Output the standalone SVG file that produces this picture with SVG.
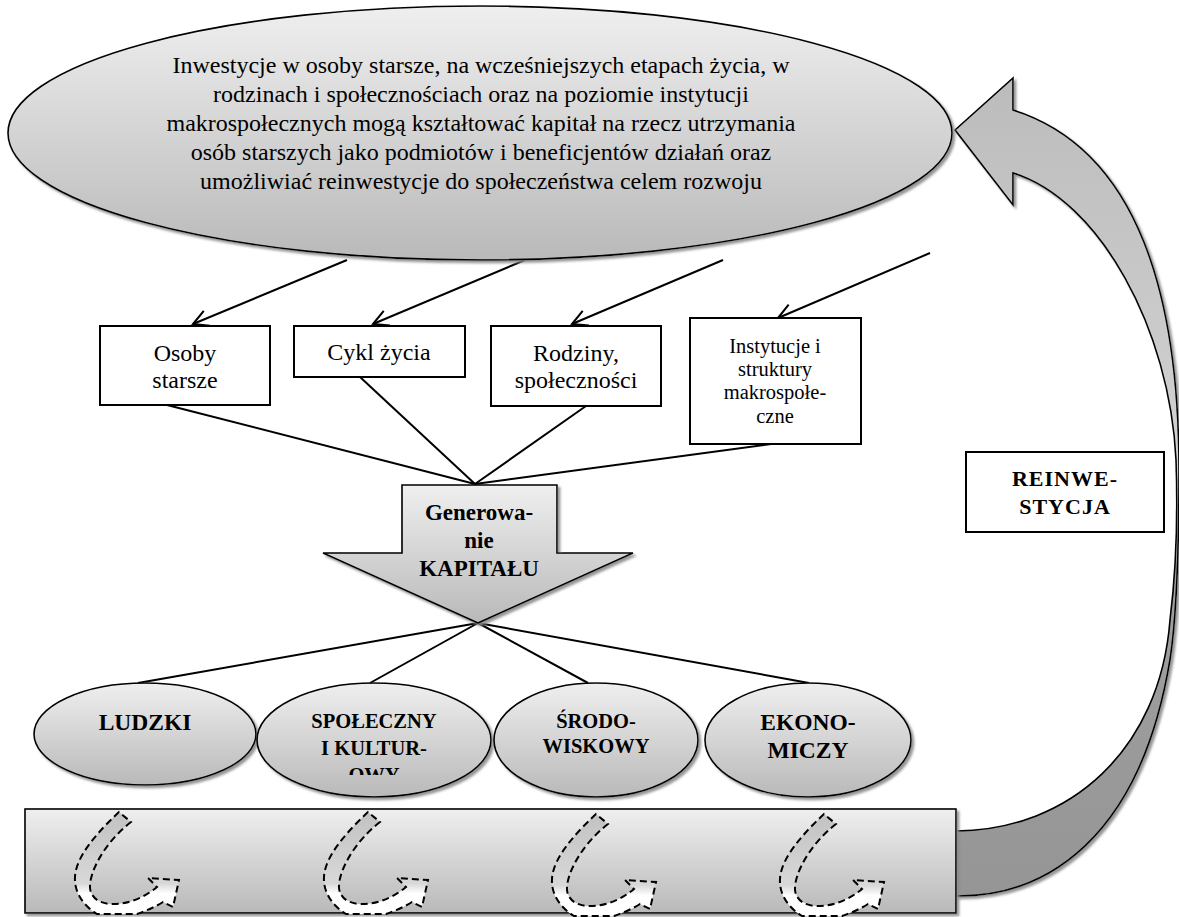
<svg xmlns="http://www.w3.org/2000/svg" xmlns:xlink="http://www.w3.org/1999/xlink" width="1179" height="917" viewBox="0 0 1179 917">
<defs>
<linearGradient id="gEll" x1="0" y1="0" x2="0" y2="1">
<stop offset="0" stop-color="#efefef"/><stop offset="1" stop-color="#b9b9b9"/>
</linearGradient>
<linearGradient id="gCurl" x1="0" y1="0" x2="0" y2="1">
<stop offset="0" stop-color="#c2c2c2"/><stop offset="0.7" stop-color="#d8d8d8"/><stop offset="0.8" stop-color="#ffffff"/><stop offset="1" stop-color="#ffffff"/>
</linearGradient>
<linearGradient id="gArc" gradientUnits="userSpaceOnUse" x1="0" y1="80" x2="0" y2="900">
<stop offset="0" stop-color="#bcbcbc"/><stop offset="0.55" stop-color="#d6d6d6"/><stop offset="0.6" stop-color="#a0a0a0"/><stop offset="1" stop-color="#959595"/>
</linearGradient>
<filter id="sh" x="-5%" y="-5%" width="115%" height="125%">
<feDropShadow dx="2.5" dy="2.5" stdDeviation="0.8" flood-color="#8a8a8a" flood-opacity="0.9"/>
</filter>
<marker id="ah" viewBox="-16 -10 20 20" refX="0" refY="0" markerWidth="20" markerHeight="20" markerUnits="userSpaceOnUse" orient="auto">
<path d="M-15,-8 L0,0 L-15,8" fill="none" stroke="#000" stroke-width="2"/>
</marker>
<clipPath id="clipOwy"><rect x="250" y="600" width="250" height="175"/></clipPath>
<path id="curl" d="M119,812 C100,830 76,855 75,877 C74,893 84,906 97,914 L137,914 C148,910 157,906 163,902 L173,907 L179,880 L148,878 L157,887 C145,897 128,905 110,904 C98,903 91,897 90,888 C89,872 105,842 131,822 Z"/>
<style>
.sh{filter:url(#sh)}
.ell{fill:url(#gEll);stroke:#000;stroke-width:1.6}
.box{fill:#fff;stroke:#000;stroke-width:2}
.ln{stroke:#000;stroke-width:2;fill:none}
.curl{fill:url(#gCurl);stroke:#000;stroke-width:2;stroke-dasharray:7 4}
</style>
</defs>
<rect width="1179" height="917" fill="#fff"/>

<g id="reinvest-arrow">
<path class="sh" fill="url(#gArc)" stroke="#000" stroke-width="1.6" d="M956,896 C1045,897 1140,840 1170,660 C1177,615 1179,540 1179,470 C1179,300 1140,150 1013,110 L1013,78 L955,130 L1013,205 L1013,173 C1100,200 1170,330 1176,460 C1178,520 1175,580 1170,620 C1160,750 1070,830 956,831 Z"/>
</g>

<g id="connectors">
<line class="ln" x1="347" y1="260" x2="193" y2="324" marker-end="url(#ah)"/>
<line class="ln" x1="525" y1="260" x2="373" y2="324" marker-end="url(#ah)"/>
<line class="ln" x1="723" y1="260" x2="572" y2="324" marker-end="url(#ah)"/>
<line class="ln" x1="930" y1="253" x2="778" y2="318" marker-end="url(#ah)"/>
<line class="ln" x1="167" y1="405" x2="475" y2="484"/>
<line class="ln" x1="360" y1="377" x2="475" y2="484"/>
<line class="ln" x1="586" y1="406" x2="475" y2="484"/>
<line class="ln" x1="771" y1="444" x2="475" y2="484"/>
<line class="ln" x1="478" y1="623" x2="138" y2="683"/>
<line class="ln" x1="478" y1="623" x2="370" y2="683"/>
<line class="ln" x1="478" y1="623" x2="588" y2="683"/>
<line class="ln" x1="478" y1="623" x2="809" y2="683"/>
</g>

<g font-family="'Liberation Serif', 'Times New Roman', serif" text-anchor="middle" fill="#000">
<g id="main-ellipse">
<ellipse class="ell sh" cx="480" cy="133" rx="472" ry="127"/>
<text font-size="24" font-family="Liberation Serif, serif"><tspan x="481" y="73">Inwestycje w osoby starsze, na wcześniejszych etapach życia, w</tspan><tspan x="481" y="102">rodzinach i społecznościach oraz na poziomie instytucji</tspan><tspan x="481" y="131">makrospołecznych mogą kształtować kapitał na rzecz utrzymania</tspan><tspan x="481" y="160">osób starszych jako podmiotów i beneficjentów działań oraz</tspan><tspan x="481" y="189">umożliwiać reinwestycje do społeczeństwa celem rozwoju</tspan></text>
</g>

<g id="box-osoby">
<rect class="box" x="100" y="326" width="170" height="79"/>
<text font-size="24" font-family="Liberation Serif, serif"><tspan x="185" y="361">Osoby</tspan><tspan x="185" y="388">starsze</tspan></text>
</g>
<g id="box-cykl">
<rect class="box" x="294" y="326" width="171" height="51"/>
<text font-size="24" font-family="Liberation Serif, serif" x="379" y="360">Cykl życia</text>
</g>
<g id="box-rodziny">
<rect class="box" x="491" y="326" width="170" height="80"/>
<text font-size="24" font-family="Liberation Serif, serif"><tspan x="576" y="361">Rodziny,</tspan><tspan x="576" y="388">społeczności</tspan></text>
</g>
<g id="box-instytucje">
<rect class="box" x="690" y="318" width="171" height="126"/>
<text font-size="20.5" font-family="Liberation Serif, serif"><tspan x="775" y="353">Instytucje i</tspan><tspan x="775" y="376">struktury</tspan><tspan x="775" y="399">makrospołe-</tspan><tspan x="775" y="423">czne</tspan></text>
</g>

<g id="generowanie">
<path class="sh" fill="url(#gEll)" stroke="#000" stroke-width="1.6" d="M402,485 L557,485 L557,553 L633,553 L478,623 L323,553 L402,553 Z"/>
<text font-size="23" font-weight="bold" font-family="Liberation Serif, serif"><tspan x="479" y="520">Generowa-</tspan><tspan x="479" y="548">nie</tspan><tspan x="479" y="576">KAPITAŁU</tspan></text>
</g>

<g id="ell-ludzki">
<ellipse class="ell sh" cx="145" cy="734" rx="111" ry="51"/>
<text font-size="23.5" font-weight="bold" font-family="Liberation Serif, serif" x="145" y="730">LUDZKI</text>
</g>
<g id="ell-spoleczny">
<ellipse class="ell sh" cx="374" cy="740" rx="117" ry="57"/>
<text font-size="20.5" font-weight="bold" font-family="Liberation Serif, serif" clip-path="url(#clipOwy)"><tspan x="374" y="728">SPOŁECZNY</tspan><tspan x="374" y="755">I KULTUR-</tspan><tspan x="374" y="782">OWY</tspan></text>
</g>
<g id="ell-srodowiskowy">
<ellipse class="ell sh" cx="596" cy="740" rx="102" ry="57"/>
<text font-size="20.5" font-weight="bold" font-family="Liberation Serif, serif"><tspan x="596" y="728">ŚRODO-</tspan><tspan x="596" y="753">WISKOWY</tspan></text>
</g>
<g id="ell-ekonomiczy">
<ellipse class="ell sh" cx="808" cy="740" rx="103" ry="57"/>
<text font-size="23.5" font-weight="bold" font-family="Liberation Serif, serif"><tspan x="808" y="730">EKONO-</tspan><tspan x="808" y="758">MICZY</tspan></text>
</g>

<g id="bar">
<rect class="sh" x="25" y="809" width="931" height="104" fill="url(#gEll)" stroke="#000" stroke-width="1.6"/>
<use xlink:href="#curl" class="curl"/>
<use xlink:href="#curl" class="curl" transform="translate(249,0)"/>
<use xlink:href="#curl" class="curl" transform="translate(477,2)"/>
<use xlink:href="#curl" class="curl" transform="translate(705,2)"/>
</g>

<g id="box-reinwestycja">
<rect class="box" x="966" y="452" width="198" height="80"/>
<text font-size="22" font-weight="bold" letter-spacing="1" font-family="Liberation Serif, serif"><tspan x="1065" y="486">REINWE-</tspan><tspan x="1065" y="514">STYCJA</tspan></text>
</g>
</g>
</svg>
